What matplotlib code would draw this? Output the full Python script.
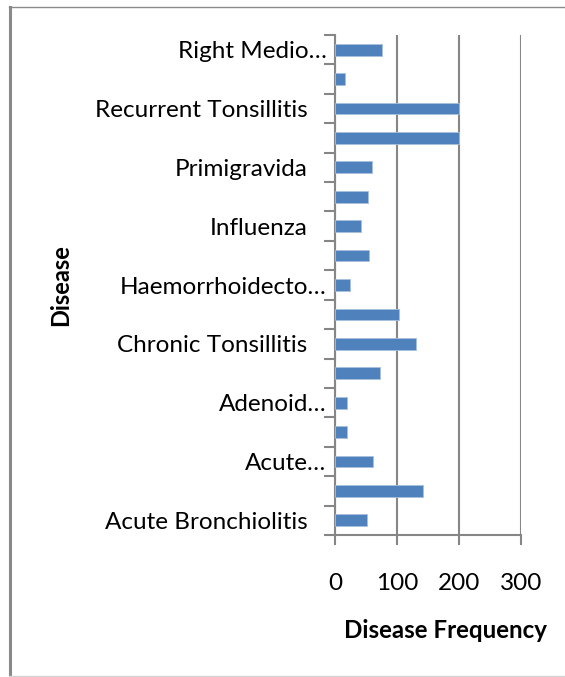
import matplotlib
matplotlib.use("Agg")
import matplotlib.pyplot as plt
from matplotlib.lines import Line2D
from matplotlib.transforms import ScaledTranslation

categories = ["Acute Bronchiolitis", "", "Acute\u2026", "", "Adenoid\u2026", "",
              "Chronic Tonsillitis", "", "Haemorrhoidecto\u2026", "", "Influenza", "",
              "Primigravida", "", "Recurrent Tonsillitis", "", "Right Medio\u2026"]
frequency = [52, 142, 62, 20, 20, 72, 130, 103, 24, 55, 42, 53, 60, 200, 200, 16, 75]
xticks = [0, 100, 200, 300]

plt.rcParams['font.family'] = ['Lato', 'DejaVu Sans']

W, H = 565, 677
fig = plt.figure(figsize=(W / 100, H / 100), dpi=100)
ax = fig.add_axes([335 / W, 1 - 535 / H, (521 - 335) / W, 500 / H])

grid_c = '#868686'
pos = list(range(len(categories)))
ax.barh(pos, frequency, height=0.4, color='#4f81bd', edgecolor='#a7c0de', linewidth=0.6, zorder=3)
ax.set_xlim(0, 300)
ax.set_ylim(-0.5, len(categories) - 0.5)
ax.set_xticks(xticks)
ax.set_xticklabels([str(v) for v in xticks], fontsize=17.5)
ax.set_yticks(pos)
ax.set_yticklabels(categories, fontsize=17.5)
ax.set_yticks([p - 0.5 for p in pos] + [len(categories) - 0.5], minor=True)
ax.tick_params(axis='y', which='major', length=0, pad=6)
ax.tick_params(axis='y', which='minor', length=8, width=1.5, color=grid_c)
ax.tick_params(axis='x', which='major', length=7, width=1.5, color=grid_c, pad=20)
ax.grid(axis='x', color=grid_c, linewidth=1.5, zorder=0)
for s in ['top', 'right']:
    ax.spines[s].set_visible(False)
for s in ['left', 'bottom']:
    ax.spines[s].set_color(grid_c)
    ax.spines[s].set_linewidth(1.5)

# full labels sit further left than truncated ones (as in the original)
for lab in ax.get_yticklabels():
    if lab.get_text() and not lab.get_text().endswith('\u2026'):
        lab.set_transform(lab.get_transform() + ScaledTranslation(-19 / 100, 0, fig.dpi_scale_trans))

fig.text(446 / W, 1 - 631 / H, 'Disease Frequency', fontsize=17.4, fontweight='bold',
         ha='center', va='center')
fig.text(61 / W, 1 - 285 / H, 'Disease', fontsize=17, fontweight='bold',
         ha='center', va='center', rotation=90)

# outer chart frame
fig.add_artist(Line2D([9.5 / W, 9.5 / W], [1 - 676 / H, 1 - 6.5 / H], transform=fig.transFigure,
                      color='#8a8a8a', linewidth=2.2))
fig.add_artist(Line2D([9 / W, 1], [1 - 6.5 / H, 1 - 6.5 / H], transform=fig.transFigure,
                      color='#8a8a8a', linewidth=1.0))
fig.add_artist(Line2D([9 / W, 1], [1 - 675.5 / H, 1 - 675.5 / H], transform=fig.transFigure,
                      color='#d4d4d4', linewidth=1.0))
fig.savefig('out.png', dpi=100)
